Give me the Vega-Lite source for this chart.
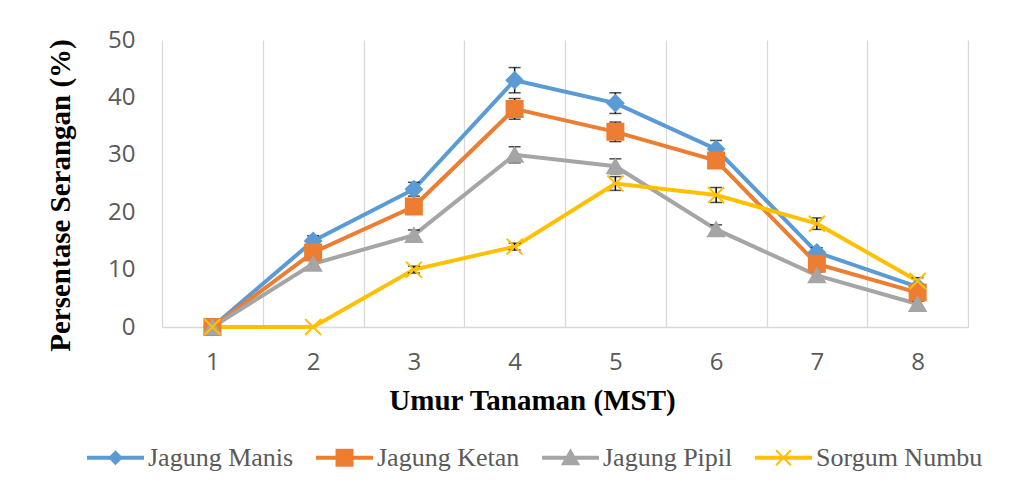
{
  "$schema": "https://vega.github.io/schema/vega-lite/v6.json",
  "autosize": "none",
  "width": 806,
  "height": 287,
  "padding": {"left": 162, "top": 40, "right": 64, "bottom": 173},
  "background": "white",
  "config": {
    "view": {"stroke": null},
    "axis": {"labelFont": "Open Sans", "labelFontSize": 24, "labelColor": "#595959", "titleFont": "Liberation Serif", "titleFontSize": 29, "titleFontWeight": "bold", "titleColor": "black"}
  },
  "data": {
    "values": [
      {"week": 1, "series": "Jagung Manis", "value": 0, "err": 0},
      {"week": 2, "series": "Jagung Manis", "value": 15, "err": 0.9},
      {"week": 3, "series": "Jagung Manis", "value": 24, "err": 1.2},
      {"week": 4, "series": "Jagung Manis", "value": 43, "err": 2.2},
      {"week": 5, "series": "Jagung Manis", "value": 39, "err": 1.8},
      {"week": 6, "series": "Jagung Manis", "value": 31, "err": 1.5},
      {"week": 7, "series": "Jagung Manis", "value": 13, "err": 0.8},
      {"week": 8, "series": "Jagung Manis", "value": 7, "err": 0.5},
      {"week": 1, "series": "Jagung Ketan", "value": 0, "err": 0},
      {"week": 2, "series": "Jagung Ketan", "value": 13, "err": 0.7},
      {"week": 3, "series": "Jagung Ketan", "value": 21, "err": 1.0},
      {"week": 4, "series": "Jagung Ketan", "value": 38, "err": 1.8},
      {"week": 5, "series": "Jagung Ketan", "value": 34, "err": 1.7},
      {"week": 6, "series": "Jagung Ketan", "value": 29, "err": 0.8},
      {"week": 7, "series": "Jagung Ketan", "value": 11, "err": 0.8},
      {"week": 8, "series": "Jagung Ketan", "value": 6, "err": 0.5},
      {"week": 1, "series": "Jagung Pipil", "value": 0, "err": 0},
      {"week": 2, "series": "Jagung Pipil", "value": 11, "err": 0.7},
      {"week": 3, "series": "Jagung Pipil", "value": 16, "err": 0.9},
      {"week": 4, "series": "Jagung Pipil", "value": 30, "err": 1.4},
      {"week": 5, "series": "Jagung Pipil", "value": 28, "err": 1.3},
      {"week": 6, "series": "Jagung Pipil", "value": 17, "err": 0.8},
      {"week": 7, "series": "Jagung Pipil", "value": 9, "err": 0.6},
      {"week": 8, "series": "Jagung Pipil", "value": 4, "err": 0.5},
      {"week": 1, "series": "Sorgum Numbu", "value": 0, "err": 0},
      {"week": 2, "series": "Sorgum Numbu", "value": 0, "err": 0},
      {"week": 3, "series": "Sorgum Numbu", "value": 10, "err": 0.6},
      {"week": 4, "series": "Sorgum Numbu", "value": 14, "err": 0.6},
      {"week": 5, "series": "Sorgum Numbu", "value": 25, "err": 1.2},
      {"week": 6, "series": "Sorgum Numbu", "value": 23, "err": 1.3},
      {"week": 7, "series": "Sorgum Numbu", "value": 18, "err": 1.0},
      {"week": 8, "series": "Sorgum Numbu", "value": 8, "err": 0.6}
    ]
  },
  "encoding": {
    "x": {
      "field": "week", "type": "quantitative",
      "scale": {"domain": [0.5, 8.5], "nice": false, "zero": false},
      "axis": {
        "title": "Umur Tanaman (MST)",
        "values": [0.5, 1.5, 2.5, 3.5, 4.5, 5.5, 6.5, 7.5, 8.5],
        "grid": true, "gridColor": "#d9d9d9", "gridWidth": 1.3,
        "domainColor": "#d9d9d9", "domainWidth": 1.5,
        "ticks": false,
        "labelExpr": "datum.value < 8 ? format(datum.value + 0.5, 'd') : ''",
        "labelOffset": 50.4, "labelPadding": 23,
        "labelOverlap": false, "labelFlush": false, "labelBound": false,
        "titlePadding": 12, "titleX": 370
      }
    },
    "y": {
      "field": "value", "type": "quantitative",
      "scale": {"domain": [0, 50], "nice": false},
      "axis": {
        "title": "Persentase Serangan (%)",
        "values": [0, 10, 20, 30, 40, 50],
        "grid": false, "domain": false, "ticks": false,
        "labelPadding": 27, "titlePadding": 32, "titleY": 155
      }
    }
  },
  "layer": [
    {
      "mark": {"type": "line", "strokeWidth": 4},
      "encoding": {
        "color": {
          "field": "series", "type": "nominal",
          "scale": {"domain": ["Jagung Manis", "Jagung Ketan", "Jagung Pipil", "Sorgum Numbu"], "range": ["#5B9BD5", "#ED7D31", "#A5A5A5", "#FFC000"]},
          "legend": {
            "title": null, "orient": "none", "direction": "horizontal",
            "legendX": -75, "legendY": 389,
            "labelFont": "Liberation Serif", "labelFontSize": 26, "labelColor": "#595959",
            "labelLimit": 400,
            "labelOffset": 4, "columnPadding": 19, "symbolSize": 3025,
            "encode": {
              "symbols": {
                "update": {
                  "shape": {"signal": "datum.value === 'Jagung Manis' ? 'M-1,-0.036H1V0.036H-1Z M0,-0.22L0.22,0L0,0.22L-0.22,0Z' : datum.value === 'Jagung Ketan' ? 'M-1,-0.036H1V0.036H-1Z M-0.29,-0.29H0.29V0.29H-0.29Z' : datum.value === 'Jagung Pipil' ? 'M-1,-0.036H1V0.036H-1Z M0,-0.27L0.29,0.24L-0.29,0.24Z' : 'M-1,-0.036H1V0.036H-1Z M-0.27,-0.27L0.27,0.27M-0.27,0.27L0.27,-0.27'"},
                  "fill": {"signal": "datum.value === 'Jagung Manis' ? '#5B9BD5' : datum.value === 'Jagung Ketan' ? '#ED7D31' : datum.value === 'Jagung Pipil' ? '#A5A5A5' : '#FFC000'"},
                  "stroke": {"signal": "datum.value === 'Jagung Manis' ? '#5B9BD5' : datum.value === 'Jagung Ketan' ? '#ED7D31' : datum.value === 'Jagung Pipil' ? '#A5A5A5' : '#FFC000'"},
                  "strokeWidth": {"value": 2},
                  "opacity": {"value": 1},
                  "fillOpacity": {"value": 1},
                  "strokeOpacity": {"value": 1},
                  "size": {"value": 3025}
                }
              }
            }
          }
        }
      }
    },
    {
      "transform": [{"filter": "datum.err > 0"}],
      "mark": {"type": "errorbar", "ticks": true, "size": 12, "thickness": 1.5, "color": "black"},
      "encoding": {
        "yError": {"field": "err"}
      }
    },
    {
      "transform": [{"filter": "datum.series === 'Jagung Manis'"}],
      "mark": {"type": "point", "shape": "diamond", "filled": true, "size": 256, "color": "#5B9BD5", "stroke": "#5B9BD5", "strokeWidth": 2, "opacity": 1}
    },
    {
      "transform": [{"filter": "datum.series === 'Jagung Ketan'"}],
      "mark": {"type": "point", "shape": "square", "filled": true, "size": 256, "color": "#ED7D31", "stroke": "#ED7D31", "strokeWidth": 2, "opacity": 1}
    },
    {
      "transform": [{"filter": "datum.series === 'Jagung Pipil'"}],
      "mark": {"type": "point", "shape": "triangle-up", "filled": true, "size": 256, "color": "#A5A5A5", "stroke": "#A5A5A5", "strokeWidth": 2, "opacity": 1}
    },
    {
      "transform": [{"filter": "datum.series === 'Sorgum Numbu'"}],
      "mark": {"type": "point", "shape": "M-1,-1L1,1M-1,1L1,-1", "filled": false, "size": 256, "color": "#FFC000", "stroke": "#FFC000", "strokeWidth": 2, "opacity": 1}
    }
  ]
}
